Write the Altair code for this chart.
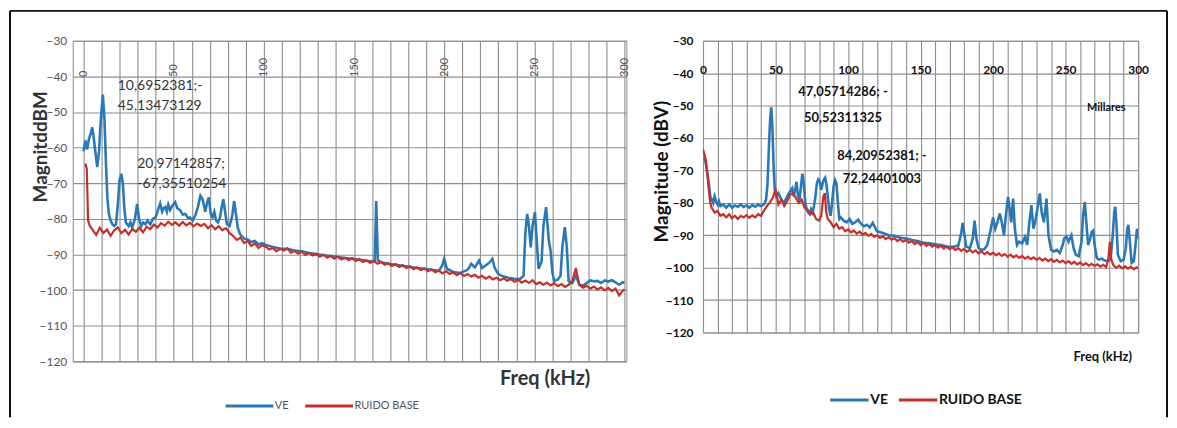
import altair as alt
import pandas as pd

SERIES = ["VE", "RUIDO BASE"]
BLUE = "#2a78b6"
RED = "#c5302b"

# ---------------- Left panel (dBM) ----------------
L_VE_X = [0, 1, 2, 3, 4, 4.8, 5.6, 6.5, 7.6, 8.6, 9.6, 10.7, 11.6, 12.4, 13.2, 14, 15, 16, 17, 18, 19, 20,
          20.97, 21.8, 22.6, 23.5, 25, 26, 27, 28.5, 29.7, 30.8, 32, 33, 34.3, 35.5, 37, 38.5, 40, 41.3, 42.5,
          43.6, 44.5, 45.3, 46.2, 47, 48, 49, 50.8, 52, 53.6, 55, 56.4, 58, 59, 60.5, 62, 63.5, 64.8, 66, 67.5,
          68.5, 69.5, 70.5, 71.5, 72.5, 73.5, 74.5, 75.5, 76.5, 77.5, 78.5, 79.5, 81, 82.5, 83.5, 84.5, 85.5,
          87, 89, 91, 93, 95, 97, 99, 101, 105, 109, 113, 117, 121, 125, 129, 133, 137, 141, 145, 149, 153,
          157, 160, 161.5, 162.3, 163.2, 165, 169, 173, 177, 181, 185, 189, 193, 197, 199, 200, 201.5, 205,
          209, 213, 215, 217, 219.3, 221, 223, 225, 226.7, 228, 230, 233, 236, 239, 242, 244, 245, 246, 247,
          248, 249, 250.3, 251.3, 252.3, 254, 255, 256.5, 258, 259, 260, 261, 263, 264.5, 265.5, 266.9, 268,
          269, 271, 273, 275, 277, 279, 281, 283, 285, 287, 289, 291, 293, 295, 297, 299, 300]
L_VE_Y = [-61, -58, -60.5, -57.5, -56, -54.3, -57, -61, -65.5, -61, -52, -45.13, -52, -64, -74, -78.5, -80.5,
          -81.5, -82, -81.5, -76, -69, -67.36, -70, -77, -81, -82, -81, -82.5, -80, -75.8, -80, -82, -81, -81.5,
          -80.5, -81.5, -80, -79.5, -77.5, -75.7, -78, -77, -76.7, -78, -76, -77.5, -76.5, -75.3, -77, -77.6,
          -78.8, -78.6, -79.8, -79.6, -80.5, -79, -76.5, -73.5, -74.5, -78, -75.5, -74, -78.5, -79.5, -78,
          -80.5, -81, -80, -77, -74.5, -78, -81.5, -82, -79, -75, -78.5, -82.5, -84.5, -85.5, -85.8, -86.5,
          -86.2, -87.2, -86.8, -87.3, -87.9, -88.3, -88.4, -88.9, -89.1, -89.6, -89.9, -90.2, -90.4, -90.7,
          -91.0, -91.2, -91.5, -91.8, -91.9, -92.0, -75.0, -91.6, -92.2, -92.6, -92.9, -93.2, -93.5, -93.8,
          -94.0, -94.3, -94.6, -93.0, -91.2, -94.0, -94.9, -95.2, -94.3, -92.6, -93.6, -91.7, -93.8, -93.1,
          -92.3, -91.2, -93.8, -95.5, -96.2, -96.6, -96.8, -96.9, -96.0, -84, -78.6, -82, -88, -82, -78.1, -86,
          -94, -92, -82, -76.7, -86, -89, -95, -97.5, -97, -96, -88, -82.3, -88, -97.5, -98, -96, -98.5, -98.8,
          -98, -97.3, -97.5, -97.4, -98, -97.3, -97.6, -97.2, -97.8, -98.5, -97.8, -98]

L_RB_X = [1, 1.8, 2.5, 3.5, 5, 7, 9, 11, 13, 15, 17, 19, 21, 23, 25, 27, 29, 31, 33, 35, 37, 39, 41, 43, 45,
          47, 49, 51, 53, 55, 57, 59, 61, 63, 65, 67, 69, 71, 73, 75, 77, 79, 81, 83, 85, 87, 89, 91, 93, 95,
          97, 99, 101, 103, 105, 107, 109, 111, 113, 115, 117, 119, 121, 123, 125, 127, 129, 131, 133, 135,
          137, 139, 141, 143, 145, 147, 149, 151, 153, 155, 157, 159, 161, 163, 165, 167, 169, 171, 173, 175,
          177, 179, 181, 183, 185, 187, 189, 191, 193, 195, 197, 199, 201, 203, 205, 207, 209, 211, 213, 215,
          217, 219, 221, 223, 225, 227, 229, 231, 233, 235, 237, 239, 241, 243, 245, 247, 249, 251, 253, 255,
          257, 259, 261, 263, 265, 267, 269, 271, 273, 275, 277, 279, 281, 283, 285, 287, 289, 291, 293, 295,
          297, 299, 300]
L_RB_Y = [-64.5, -66, -80.5, -82, -83, -84.5, -82.5, -84, -83, -84.8, -83.2, -82.4, -84, -83.1, -84.4, -82.8,
          -83.6, -82.5, -83.8, -82.2, -82.9, -81.6, -82.4, -81.2, -81.9, -80.8, -81.7, -81.0, -81.9, -80.9,
          -81.8, -81.1, -82.1, -81.3, -82.0, -81.4, -82.6, -81.8, -82.9, -82.1, -83.2, -82.6, -84.0, -84.8,
          -85.9, -85.3, -86.8, -86.2, -87.6, -86.9, -88.2, -87.4, -87.8, -88.6, -88.2, -89.1, -88.4, -88.9,
          -88.3, -89.5, -89.0, -89.8, -89.2, -90.1, -89.5, -90.3, -89.8, -90.6, -90.0, -90.9, -90.4, -91.2,
          -90.6, -91.4, -90.9, -91.6, -91.0, -91.8, -91.3, -92.1, -91.6, -92.4, -91.8, -92.6, -92.1, -92.9,
          -92.4, -93.2, -92.7, -93.5, -93.0, -93.8, -93.3, -94.1, -93.6, -94.4, -93.9, -94.7, -94.2, -95.0,
          -94.5, -95.3, -94.7, -95.5, -95.0, -95.8, -95.2, -96.0, -95.5, -96.2, -95.7, -96.5, -96.0, -96.8,
          -96.2, -97.0, -96.5, -97.2, -96.7, -97.4, -96.9, -97.7, -97.1, -97.9, -97.3, -98.0, -97.2, -98.3,
          -97.8, -98.5, -97.9, -98.7, -98.1, -98.9, -98.3, -99.1, -98.5, -97.5, -93.8, -98.6, -99.3, -98.8,
          -99.6, -99.0, -99.8, -99.2, -100.1, -99.4, -100.3, -99.6, -101.5, -100.2, -99.8]

L_ANN_X = [10.6952381, 20.97142857]
L_ANN_Y = [-45.13473129, -67.35510254]
L_ANN_T = ["10,6952381;-\n45,13473129", "20,97142857;\n-67,35510254"]

# ---------------- Right panel (dBV) ----------------
R_VE_X = [1, 2, 3, 4, 5, 6, 7, 8, 9, 10, 11, 12, 14, 16, 18, 20, 22, 24, 26, 28, 30, 32, 34, 36, 38, 40, 42,
          43.5, 44.5, 45.5, 46.3, 47.05714286, 47.8, 48.6, 49.5, 50.5, 52, 54, 56, 58, 60, 61.5, 62.5, 63.5,
          64.5, 65.5, 66.5, 67.5, 68.5, 69.5, 70.5, 71.5, 72.5, 73.5, 74.5, 75.5, 76.5, 77.5, 78.5, 79.5,
          80.5, 81.5, 82.5, 83.3, 84.20952381, 85, 86, 87, 88, 89, 90, 91, 92, 93, 94, 95, 97, 99, 101, 103,
          105, 107, 109, 111, 113, 115, 117, 120, 124, 128, 132, 136, 140, 144, 148, 152, 156, 160, 164, 168,
          172, 176, 178, 179, 180, 181.5, 184, 186, 187.2, 188.5, 190, 192, 194, 196, 198, 200, 201.5, 203,
          204.6, 206, 207.5, 208.8, 210.3, 211.5, 212.5, 213.8, 215, 216.5, 218, 220, 222, 223.5, 225, 226.4,
          227.8, 229, 230.5, 232.2, 233.5, 235, 236.8, 238.2, 240, 242, 244, 246, 248, 249, 250.6, 252, 254,
          255.5, 257, 259, 261, 262, 263.2, 264.3, 265.5, 267, 268, 269, 270, 271.5, 273, 275, 277, 279, 281,
          282.5, 283.5, 284.2, 285, 286, 288, 290, 291.5, 292.5, 293.3, 294.3, 295.5, 297, 298.2, 299.2, 300]
R_VE_Y = [-66, -68, -71, -74, -78, -79, -80, -78, -79.5, -80.5, -79.5, -81, -80.5, -81.5, -80.5, -81.5, -80.8,
          -81.2, -80.5, -81.3, -80.8, -81.5, -80.7, -81.2, -80.6, -81, -80.5, -79, -74, -62, -54,
          -50.52311325, -56, -68, -76, -78, -77, -79, -80, -78, -76.5, -75.5, -78, -76, -73.5, -78, -79, -75,
          -71, -74, -80, -82, -83, -83.5, -82, -83, -81, -78, -74, -72.8, -73.5, -76, -74, -72.8,
          -72.24401003, -74, -78, -82, -84, -80, -75, -73, -74, -80, -85, -84.5, -85.5, -86, -85, -86.5, -86,
          -85.2, -86.5, -87.2, -86.8, -87.6, -86.2, -88.8, -89.3, -90, -90.2, -90.8, -91, -91.5, -91.8, -92.3,
          -92.5, -92.8, -93, -93.5, -93.6, -93.2, -89.5, -86.2, -89, -93.5, -94, -91, -85.5, -91, -94, -94.5,
          -94.3, -93, -89, -84.5, -88, -86, -83.3, -86, -90, -84, -78.2, -82, -86, -78.7, -88, -93, -92, -92.5,
          -90.5, -93, -86, -80.7, -88, -86, -82, -77.1, -83, -86, -78.7, -90, -94.5, -95, -94.5, -95.5, -93,
          -91, -90.4, -92, -90, -94, -96, -96.5, -92, -84, -79.7, -86, -93, -91, -89, -88.6, -93, -97, -97.5,
          -97.2, -97.8, -98, -97.5, -90, -83, -81.2, -86, -96, -98, -97.5, -94, -88, -86.8, -92, -98.5, -98,
          -93, -88, -91]

R_RB_X = [0, 1, 2, 3, 4, 5, 6, 8, 10, 12, 14, 16, 18, 20, 22, 24, 26, 28, 30, 32, 34, 36, 38, 40, 42, 44, 46,
          48, 50, 51, 52, 54, 56, 58, 60, 62, 64, 66, 68, 70, 72, 74, 76, 78, 80, 81.5, 83, 84, 85, 86, 88, 90,
          92, 94, 96, 98, 100, 102, 104, 106, 108, 110, 112, 114, 116, 118, 120, 122, 124, 126, 128, 130, 132,
          134, 136, 138, 140, 142, 144, 146, 148, 150, 152, 154, 156, 158, 160, 162, 164, 166, 168, 170, 172,
          174, 176, 178, 180, 182, 184, 186, 188, 190, 192, 194, 196, 198, 200, 202, 204, 206, 208, 210, 212,
          214, 216, 218, 220, 222, 224, 226, 228, 230, 232, 234, 236, 238, 240, 242, 244, 246, 248, 250, 252,
          254, 256, 258, 260, 262, 264, 266, 268, 270, 272, 274, 276, 278, 279.5, 280.5, 281.5, 283, 285, 287,
          289, 291, 293, 295, 297, 299, 300]
R_RB_Y = [-63.5, -65, -67, -71, -76, -80, -81.5, -83, -82.5, -84, -83.5, -84.5, -83.5, -84.8, -84, -85, -84,
          -84.5, -83.8, -84.6, -83.9, -84.5, -83.5, -84, -82.5, -81, -80, -78.5, -76, -78, -80.5, -79, -81,
          -79.5, -77.5, -77, -78.5, -80, -79, -81.5, -82, -83.5, -83, -85, -85.5, -84, -78, -77, -83, -85,
          -86, -87.5, -86.5, -88, -87.5, -88.8, -88.2, -89.1, -88.6, -89.5, -88.9, -89.8, -89.3, -90.2, -89.6,
          -90.5, -90.0, -90.8, -90.3, -91.2, -90.6, -91.4, -90.9, -91.8, -91.2, -92.0, -91.5, -92.3, -91.8,
          -92.7, -92.1, -93.0, -92.4, -93.3, -92.7, -93.5, -93.0, -93.8, -93.2, -94.1, -93.5, -94.3, -93.7,
          -94.6, -94.0, -94.8, -94.2, -95.1, -94.5, -95.3, -94.7, -95.6, -95.0, -95.8, -95.2, -96.0, -95.4,
          -96.2, -95.6, -96.4, -95.8, -96.6, -96.0, -96.8, -96.2, -97.0, -96.4, -97.2, -96.6, -97.4, -96.8,
          -97.6, -97.0, -97.8, -97.2, -98.0, -97.4, -98.2, -97.6, -98.4, -97.8, -98.6, -98.0, -98.8, -98.2,
          -99.0, -98.4, -99.2, -98.6, -99.4, -98.8, -99.5, -99.0, -99.7, -99.1, -99.8, -97, -92, -97.5, -99.3,
          -100.0, -99.4, -100.2, -99.6, -100.3, -99.7, -100.5, -99.9, -100.2]

R_ANN_X = [47.05714286, 84.20952381]
R_ANN_Y = [-50.52311325, -72.24401003]
R_ANN_T = ["47,05714286; -\n50,52311325", "84,20952381; -\n72,24401003"]

FONT = "Lato"
GRID = "#8e8e8e"


def series_df(xs, ys, name):
    return pd.DataFrame({"f": xs, "m": ys, "s": name})


def build_panel(ve_x, ve_y, rb_x, rb_y, ann_x, ann_y, ann_t, width, height, xdom, xaxis, yaxis, legend,
                ann_styles, extra=None):
    xs = alt.X("f:Q", scale=alt.Scale(domain=xdom, nice=False, zero=False), axis=xaxis)
    ys = alt.Y("m:Q", scale=alt.Scale(domain=[-120, -30], nice=False, zero=False), axis=yaxis)
    col = alt.Color("s:N", scale=alt.Scale(domain=SERIES, range=[BLUE, RED]), legend=legend)
    ve = alt.Chart(series_df(ve_x, ve_y, "VE")).mark_line(strokeWidth=2.6, clip=True).encode(
        x=xs, y=ys, color=col, order=alt.Order("f:Q"))
    rb = alt.Chart(series_df(rb_x, rb_y, "RUIDO BASE")).mark_line(strokeWidth=2.2, clip=True).encode(
        x=xs, y=ys, color=col, order=alt.Order("f:Q"))
    layers = [ve, rb]
    for i, st in enumerate(ann_styles):
        layers.append(
            alt.Chart(pd.DataFrame({"f": [ann_x[i]], "m": [ann_y[i]], "t": [ann_t[i]]})).mark_text(**st).encode(
                x=xs, y=ys, text="t:N"))
    if extra is not None:
        layers += extra
    return alt.layer(*layers).properties(width=width, height=height)


def lab50():
    return "datum.value % 50 === 0 ? datum.label : ''"


# Left panel
LW, LH = 556, 322
left_x_axis = alt.Axis(orient="top", offset=-35.8, values=list(range(0, 301, 10)), labelExpr=lab50(),
                       labelAngle=270, labelAlign="left", labelBaseline="middle", labelPadding=0,
                       labelFontSize=11, labelColor="#555555", labelFont=FONT, labelOverlap=False,
                       ticks=False, domain=False, grid=True, gridColor=GRID, gridWidth=1.1,
                       title="Freq (kHz)", titleX=474, titleY=378 - 39 - 35.8, titleAngle=0,
                       titleAlign="center", titleBaseline="middle", titleFontSize=20, titleFont=FONT,
                       titleFontWeight="bold", titleColor="#333333")
left_y_axis = alt.Axis(values=list(range(-120, -29, 10)), grid=True, gridColor=GRID, gridWidth=1.1,
                       ticks=False, domain=False, labelPadding=6, labelFontSize=12, labelColor="#555555",
                       labelFont=FONT, labelOverlap=False,
                       title="MagnitddBM", titleX=-32, titleY=106, titleAngle=270, titleAlign="center",
                       titleBaseline="middle", titleFontSize=19, titleFont=FONT, titleFontWeight="bold",
                       titleColor="#333333")
left_legend = alt.Legend(orient="none", legendX=152, legendY=341, direction="horizontal", title=None,
                         symbolType="stroke", symbolSize=2300, symbolStrokeWidth=3, labelFontSize=11,
                         labelColor="#555555", labelFont=FONT, columnPadding=10, labelOffset=0)
left_anns = [
    dict(align="left", baseline="top", dx=15, dy=-16, fontSize=14, font=FONT, color="#333333",
         lineBreak="\n", lineHeight=20),
    dict(align="left", baseline="top", dx=16, dy=-17, fontSize=14, font=FONT, color="#333333",
         lineBreak="\n", lineHeight=20),
]

# Frame around the whole figure (decoration)
frame_layers = [
    alt.Chart(alt.Data(values=[{}])).mark_rule(color="#111111", strokeWidth=2).encode(
        x=alt.value(-63), x2=alt.value(1099), y=alt.value(-30)),
    alt.Chart(alt.Data(values=[{}])).mark_rule(color="#111111", strokeWidth=2).encode(
        x=alt.value(-63), y=alt.value(-30), y2=alt.value(378)),
    alt.Chart(alt.Data(values=[{}])).mark_rule(color="#111111", strokeWidth=2).encode(
        x=alt.value(1099), y=alt.value(-30), y2=alt.value(378)),
]

left = build_panel(L_VE_X, L_VE_Y, L_RB_X, L_RB_Y, L_ANN_X, L_ANN_Y, L_ANN_T, LW, LH, [-6, 301],
                   left_x_axis, left_y_axis, left_legend, left_anns, extra=frame_layers)

# Right panel
RW, RH = 437, 293
right_x_axis = alt.Axis(orient="top", offset=-32.55, values=list(range(0, 301, 10)), labelExpr=lab50(),
                        labelAngle=0, labelAlign="center", labelBaseline="middle", labelPadding=3.5,
                        labelFontSize=12, labelColor="#111111", labelFont=FONT, labelFontWeight="bold",
                        labelOverlap=False,
                        ticks=False, domain=False, grid=True, gridColor=GRID, gridWidth=1.1,
                        title="Freq (kHz)", titleX=401, titleY=356 - 39 - 32.55, titleAngle=0,
                        titleAlign="center", titleBaseline="middle", titleFontSize=13, titleFont=FONT,
                        titleFontWeight="bold", titleColor="#111111")
right_y_axis = alt.Axis(values=list(range(-120, -29, 10)), grid=True, gridColor=GRID, gridWidth=1.1,
                        ticks=False, domain=False, labelPadding=10, labelFontSize=12, labelColor="#111111",
                        labelFont=FONT, labelFontWeight="bold", labelOverlap=False,
                        title="Magnitude (dBV)", titleX=-42, titleY=131, titleAngle=270, titleAlign="center",
                        titleBaseline="middle", titleFontSize=19, titleFont=FONT, titleFontWeight="bold",
                        titleColor="#111111")
right_legend = alt.Legend(orient="none", legendX=126, legendY=339.7, direction="horizontal", title=None,
                          symbolType="stroke", symbolSize=1484, symbolStrokeWidth=3, labelFontSize=14,
                          labelColor="#111111", labelFont=FONT, labelFontWeight="bold", columnPadding=4,
                          labelOffset=0)
right_anns = [
    dict(align="center", baseline="top", dx=72, dy=-21, fontSize=13, font=FONT, fontWeight="bold",
         color="#111111", lineBreak="\n", lineHeight=26),
    dict(align="center", baseline="top", dx=57, dy=-28, fontSize=13, font=FONT, fontWeight="bold",
         color="#111111", lineBreak="\n", lineHeight=23),
]
millares = alt.Chart(alt.Data(values=[{}])).mark_text(text="Millares", fontSize=11, font=FONT,
                                                      fontWeight="bold", color="#111111").encode(
    x=alt.value(405), y=alt.value(68))

right = build_panel(R_VE_X, R_VE_Y, R_RB_X, R_RB_Y, R_ANN_X, R_ANN_Y, R_ANN_T, RW, RH, [0, 300],
                    right_x_axis, right_y_axis, right_legend, right_anns, extra=[millares])

chart = alt.hconcat(left, right, spacing=77, bounds="flush").resolve_scale(
    color="independent").resolve_legend(color="independent").properties(
    padding=0, background="white").configure_view(stroke="#8c8c8c", strokeWidth=1)

chart.save("out.html", embed_options={"renderer": "svg", "actions": False})
